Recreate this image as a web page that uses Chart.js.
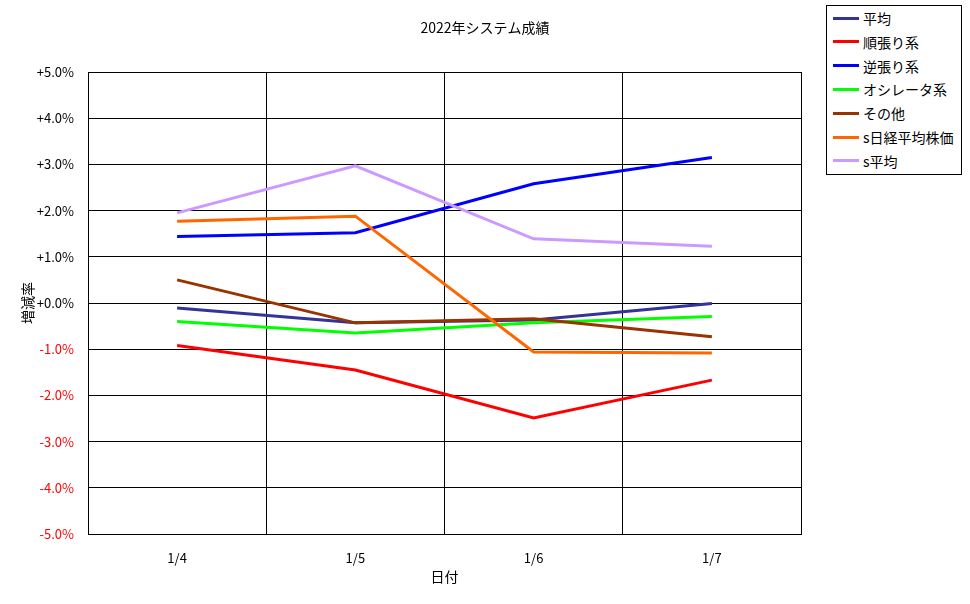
<!DOCTYPE html>
<html>
<head>
<meta charset="utf-8">
<script src="https://cdn.jsdelivr.net/npm/chart.js@4/dist/chart.umd.min.js"></script>
<style>
  body { margin: 0; background: #fff; }
  #wrap { position: relative; width: 970px; height: 604px; }
  #legend {
    position: absolute; left: 826px; top: 5px; width: 134px; height: 168px;
    border: 1px solid #000; background: #fff;
    font: 14px "Noto Sans CJK JP", sans-serif; color: #000;
  }
  .item { position: absolute; left: 6px; height: 20px; display: flex; align-items: center; }
  .swatch { width: 26px; height: 3px; margin-right: 4px; }
</style>
</head>
<body>
<div id="wrap">
  <canvas id="c" width="970" height="604"></canvas>
  <div id="legend"></div>
</div>
<script>
const categories = ['1/4', '1/5', '1/6', '1/7'];
const seriesNames = ['平均', '順張り系', '逆張り系', 'オシレータ系', 'その他', 's日経平均株価', 's平均'];
const seriesColors = ['#333399', '#FF0000', '#0000FF', '#00FF00', '#993300', '#FF6600', '#CC99FF'];

const heikin     = [-0.11, -0.43, -0.37, -0.01];
const junbari    = [-0.92, -1.45, -2.49, -1.67];
const gyakubari  = [1.44, 1.52, 2.58, 3.15];
const oscillator = [-0.40, -0.65, -0.43, -0.29];
const sonota     = [0.50, -0.43, -0.34, -0.73];
const nikkei     = [1.77, 1.88, -1.06, -1.08];
const sHeikin    = [1.95, 2.97, 1.39, 1.23];

const seriesValues = [heikin, junbari, gyakubari, oscillator, sonota, nikkei, sHeikin];

const FONT = '"Noto Sans CJK JP", sans-serif';
const TITLE = '2022年システム成績';

// later series drawn on top, as in the original
const datasets = seriesNames.map((name, i) => ({
    label: name,
    data: seriesValues[i],
    borderColor: seriesColors[i],
    backgroundColor: seriesColors[i],
    borderWidth: 3,
    pointRadius: 0,
    tension: 0,
    fill: false,
    order: seriesNames.length - i,
}));

// Title centred on the whole canvas, not just the plot
const pageTitle = {
    id: 'pageTitle',
    afterDraw(chart) {
        const ctx = chart.ctx;
        ctx.save();
        ctx.font = `14px ${FONT}`;
        ctx.fillStyle = '#000';
        ctx.textAlign = 'center';
        ctx.textBaseline = 'middle';
        ctx.fillText(TITLE, chart.width / 2, 28);
        ctx.restore();
    },
};

new Chart(document.getElementById('c'), {
    type: 'line',
    data: { labels: categories, datasets },
    plugins: [pageTitle],
    options: {
        responsive: false,
        animation: false,
        layout: { padding: { left: 0, right: 169, top: 72, bottom: 0 } },
        plugins: {
            legend: { display: false },
            tooltip: { enabled: false },
            title: { display: false },
        },
        scales: {
            x: {
                offset: true,
                grid: { color: '#000', lineWidth: 1, offset: true, drawTicks: false },
                border: { color: '#000', width: 1 },
                ticks: { color: '#000', padding: 16, font: { family: FONT, size: 13 } },
                title: {
                    display: true, text: '日付', color: '#000',
                    font: { family: FONT, size: 14 },
                    padding: { top: 0, bottom: 19 },
                },
                afterFit: s => { s.height = 70; },
            },
            y: {
                min: -5, max: 5,
                grid: { color: '#000', lineWidth: 1, drawTicks: false },
                border: { color: '#000', width: 1 },
                ticks: {
                    stepSize: 1,
                    padding: 14,
                    font: { family: FONT, size: 13 },
                    color: ctx => ctx.tick.value < 0 ? '#FF0000' : '#000',
                    callback: v => (v >= 0 ? '+' : '-') + Math.abs(v).toFixed(1) + '%',
                },
                title: {
                    display: true, text: '増減率', color: '#000',
                    font: { family: FONT, size: 14 },
                    padding: { top: 19, bottom: 0 },
                },
                afterFit: s => { s.width = 88; },
            },
        },
    },
});

const legend = document.getElementById('legend');
legend.innerHTML = seriesNames.map((name, i) => `
    <div class="item" style="top:${2 + i * 23.8}px">
      <span class="swatch" style="background:${seriesColors[i]}"></span>
      <span>${name}</span>
    </div>
`).join('');
</script>
</body>
</html>
